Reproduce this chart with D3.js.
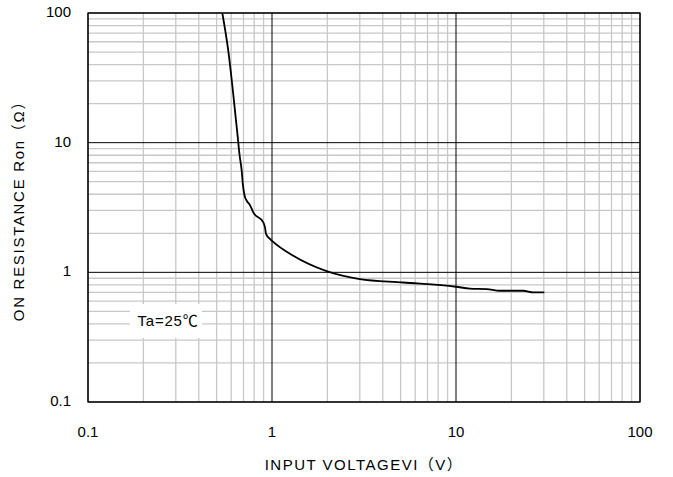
<!DOCTYPE html>
<html>
<head>
<meta charset="utf-8">
<script src="https://cdn.jsdelivr.net/npm/d3@7"></script>
<style>
  body { margin: 0; background: #fff; }
  svg text { font-family: "Liberation Sans", "Noto Sans CJK JP", sans-serif; fill: #000; }
</style>
</head>
<body>
<svg id="chart" width="673" height="477"></svg>
<script>
// -- Data --
const voltage = [0.537, 0.578, 0.64, 0.656, 0.662, 0.685, 0.695, 0.71, 0.73, 0.759, 0.791, 0.897, 0.916, 0.928, 0.975, 1.0, 1.306, 1.98, 3.0, 5.17, 10, 11.9, 14.7, 17.3, 23.2, 26.3, 30.2];
const resistance = [100, 51.7, 14, 10, 8.7, 6.0, 4.7, 3.9, 3.55, 3.3, 2.9, 2.43, 2.22, 1.98, 1.81, 1.75, 1.34, 1.02, 0.887, 0.835, 0.774, 0.75, 0.743, 0.721, 0.721, 0.70, 0.70];
const xTicks = [0.1, 1, 10, 100];
const yTicks = [0.1, 1, 10, 100];
const xTickLabels = ["0.1", "1", "10", "100"];
const yTickLabels = ["0.1", "1", "10", "100"];

const svg = d3.select("#chart");
const margin = { left: 88, top: 13, right: 33, bottom: 75 };
const width = 673 - margin.left - margin.right;
const height = 477 - margin.top - margin.bottom;

const x = d3.scaleLog().domain([0.1, 100]).range([0, width]);
const y = d3.scaleLog().domain([0.1, 100]).range([height, 0]);

const g = svg.append("g").attr("transform", `translate(${margin.left},${margin.top})`);

// minor grid values (2..9 in each decade)
const minor = [];
for (const d of [0.1, 1, 10]) {
    for (let k = 2; k <= 9; k++) minor.push(d * k);
}

g.selectAll(".vminor").data(minor).enter().append("line")
    .attr("x1", d => x(d)).attr("x2", d => x(d))
    .attr("y1", 0).attr("y2", height)
    .attr("stroke", "#c8c8c8").attr("stroke-width", 1.3);

g.selectAll(".hminor").data(minor).enter().append("line")
    .attr("y1", d => y(d)).attr("y2", d => y(d))
    .attr("x1", 0).attr("x2", width)
    .attr("stroke", "#c8c8c8").attr("stroke-width", 1.3);

// major grid
g.selectAll(".vmajor").data(xTicks).enter().append("line")
    .attr("x1", d => x(d)).attr("x2", d => x(d))
    .attr("y1", 0).attr("y2", height)
    .attr("stroke", "#000").attr("stroke-width", 1);

g.selectAll(".hmajor").data(yTicks).enter().append("line")
    .attr("y1", d => y(d)).attr("y2", d => y(d))
    .attr("x1", 0).attr("x2", width)
    .attr("stroke", "#000").attr("stroke-width", 1);

// frame
g.append("rect")
    .attr("width", width).attr("height", height)
    .attr("fill", "none").attr("stroke", "#000").attr("stroke-width", 1.2);

// curve
const line = d3.line()
    .x((d, i) => x(voltage[i]))
    .y((d, i) => y(resistance[i]))
    .curve(d3.curveMonotoneX);

g.append("path")
    .datum(voltage)
    .attr("d", line)
    .attr("fill", "none")
    .attr("stroke", "#000")
    .attr("stroke-width", 1.8);

// Ta label with white box
g.append("rect")
    .attr("x", 42).attr("y", 291)
    .attr("width", 72).attr("height", 34)
    .attr("fill", "#fff");
g.append("text")
    .attr("x", 80).attr("y", 309)
    .attr("text-anchor", "middle")
    .attr("dominant-baseline", "middle")
    .style("font-size", "15px")
    .style("letter-spacing", "0.8px")
    .text("Ta=25℃");

// tick labels
g.selectAll(".xlab").data(xTicks).enter().append("text")
    .attr("x", d => x(d)).attr("y", height + 31)
    .attr("text-anchor", "middle")
    .attr("dominant-baseline", "middle")
    .style("font-size", "15px")
    .text((d, i) => xTickLabels[i]);

g.selectAll(".ylab").data(yTicks).enter().append("text")
    .attr("x", -17).attr("y", d => y(d))
    .attr("text-anchor", "end")
    .attr("dominant-baseline", "middle")
    .style("font-size", "15px")
    .text((d, i) => yTickLabels[i]);

// axis titles
svg.append("text")
    .attr("x", 364).attr("y", 466)
    .attr("text-anchor", "middle")
    .attr("dominant-baseline", "middle")
    .style("font-size", "15px")
    .style("letter-spacing", "1.5px")
    .text("INPUT VOLTAGEVI（V）");

svg.append("text")
    .attr("transform", "translate(20,207) rotate(-90)")
    .attr("text-anchor", "middle")
    .attr("dominant-baseline", "middle")
    .style("font-size", "15px")
    .style("letter-spacing", "1.7px")
    .text("ON RESISTANCE Ron（Ω）");
</script>
</body>
</html>
